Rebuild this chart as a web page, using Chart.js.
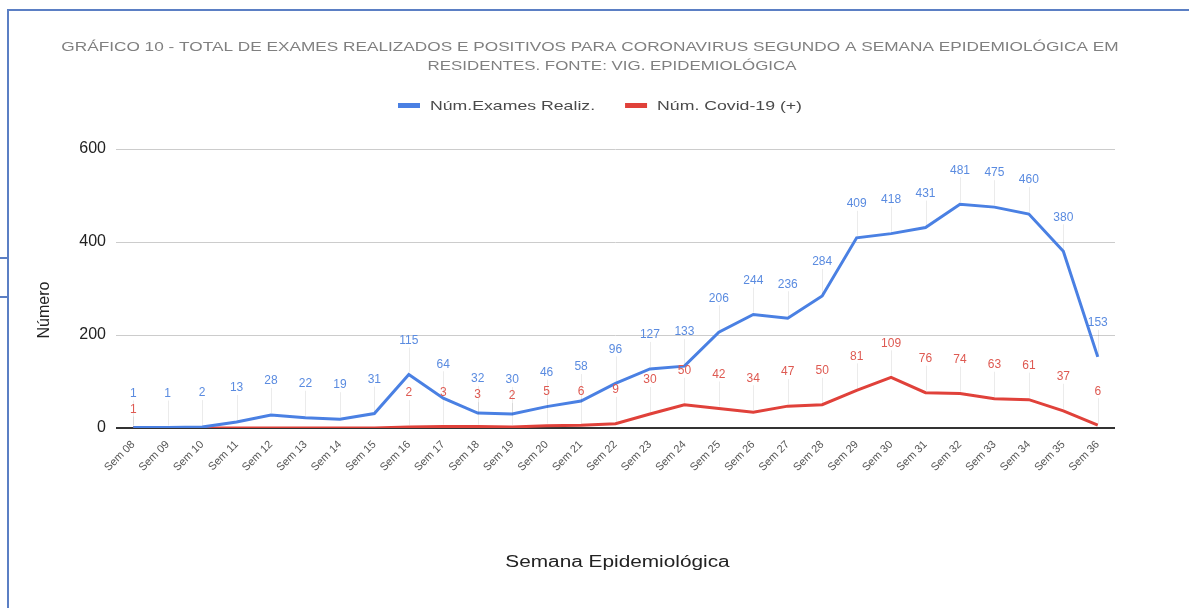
<!DOCTYPE html>
<html>
<head>
<meta charset="utf-8">
<script src="https://cdn.jsdelivr.net/npm/chart.js@4.4.1/dist/chart.umd.min.js"></script>
<style>
  html, body { margin: 0; padding: 0; background: #fff; }
  #wrap { position: relative; width: 1189px; height: 608px; overflow: hidden; }
  #moldura { position: absolute; left: 7px; top: 9px; right: -10px; bottom: -10px;
             border-left: 2px solid #5b7fc4; border-top: 2px solid #5b7fc4; }
  .traco { position: absolute; left: 0; width: 8px; height: 2px; background: #5b7fc4; }
  canvas { position: absolute; left: 0; top: 0; }
</style>
</head>
<body>
<div id="wrap">
  <div id="moldura"></div>
  <div class="traco" style="top:257px"></div>
  <div class="traco" style="top:296px"></div>
  <canvas id="grafico" width="1189" height="608"></canvas>
</div>
<script>
// semanas epidemiologicas
const semanas = ['Sem 08', 'Sem 09', 'Sem 10', 'Sem 11', 'Sem 12', 'Sem 13', 'Sem 14', 'Sem 15',
  'Sem 16', 'Sem 17', 'Sem 18', 'Sem 19', 'Sem 20', 'Sem 21', 'Sem 22', 'Sem 23', 'Sem 24',
  'Sem 25', 'Sem 26', 'Sem 27', 'Sem 28', 'Sem 29', 'Sem 30', 'Sem 31', 'Sem 32', 'Sem 33',
  'Sem 34', 'Sem 35', 'Sem 36'];

const examesRealizados = [1, 1, 2, 13, 28, 22, 19, 31, 115, 64, 32, 30, 46, 58, 96, 127, 133,
  206, 244, 236, 284, 409, 418, 431, 481, 475, 460, 380, 153];

const covidPositivos = [1, 0, 0, 0, 0, 0, 0, 0, 2, 3, 3, 2, 5, 6, 9, 30, 50,
  42, 34, 47, 50, 81, 109, 76, 74, 63, 61, 37, 6];

const ticksY = [0, 200, 400, 600];

const titulo = ['GRÁFICO 10 - TOTAL DE EXAMES REALIZADOS E POSITIVOS PARA CORONAVIRUS SEGUNDO A SEMANA EPIDEMIOLÓGICA EM',
  'RESIDENTES. FONTE: VIG. EPIDEMIOLÓGICA'];
const tituloX = 'Semana Epidemiológica';
const tituloY = 'Número';

const fonte = "'Liberation Sans', Arial, sans-serif";

// rotulos em cima dos pontos (estilo anotacao do google)
const rotulos = {
  id: 'rotulos',
  afterDatasetsDraw(chart) {
    const c = chart.ctx;
    const posBlue = [];
    c.save();
    c.font = '12px ' + fonte;
    c.textAlign = 'center';
    c.textBaseline = 'middle';
    chart.data.datasets.forEach((ds, i) => {
      const meta = chart.getDatasetMeta(i);
      meta.data.forEach((p, j) => {
        const v = ds.data[j];
        if (!v) return;
        let y = p.y - 34;
        if (i === 0) {
          posBlue[j] = y;
        } else if (posBlue[j] !== undefined && Math.abs(posBlue[j] - y) < 14) {
          y = posBlue[j] + 16;
        }
        c.strokeStyle = 'rgba(0,0,0,0.08)';
        c.lineWidth = 1;
        c.beginPath();
        c.moveTo(Math.round(p.x) + 0.5, y + 7);
        c.lineTo(Math.round(p.x) + 0.5, p.y - 2);
        c.stroke();
        c.fillStyle = ds.corRotulo;
        c.fillText(String(v), p.x, y);
      });
    });
    c.restore();
  }
};

// texto esticado na horizontal, como no original
function textoLargo(c, txt, x, y, sx, align) {
  c.save();
  c.translate(x, y);
  c.scale(sx, 1);
  c.textAlign = align;
  c.fillText(txt, 0, 0);
  const w = c.measureText(txt).width * sx;
  c.restore();
  return w;
}

// titulo, legenda e titulos dos eixos
const textos = {
  id: 'textos',
  afterDraw(chart) {
    const c = chart.ctx;
    const area = chart.chartArea;
    c.save();
    c.textBaseline = 'middle';

    // titulo
    c.fillStyle = '#808080';
    c.font = '13px ' + fonte;
    textoLargo(c, titulo[0], 590, 47, 1.325, 'center');
    textoLargo(c, titulo[1], 612, 66, 1.3, 'center');

    // legenda
    c.font = '13px ' + fonte;
    let x = 398;
    chart.data.datasets.forEach(ds => {
      c.fillStyle = ds.borderColor;
      c.fillRect(x, 103, 22, 5);
      c.fillStyle = '#4a4a4a';
      const w = textoLargo(c, ds.label, x + 32, 106, 1.36, 'left');
      x += 32 + w + 30;
    });

    // eixo x
    c.fillStyle = '#222';
    c.font = '16px ' + fonte;
    textoLargo(c, tituloX, (area.left + area.right) / 2 + 2, 563, 1.3, 'center');

    // eixo y
    c.font = '16px ' + fonte;
    c.translate(45, 310);
    c.rotate(-Math.PI / 2);
    c.textAlign = 'center';
    c.fillText(tituloY, 0, 0);
    c.restore();
  }
};

const ctx = document.getElementById('grafico').getContext('2d');

const grafico = new Chart(ctx, {
  type: 'line',
  data: {
    labels: semanas,
    datasets: [{
      label: 'Núm.Exames Realiz.',
      data: examesRealizados,
      borderColor: '#4a80e3',
      backgroundColor: '#4a80e3',
      corRotulo: '#5a8be0',
      borderWidth: 3,
      pointRadius: 0,
      tension: 0
    }, {
      label: 'Núm. Covid-19 (+)',
      data: covidPositivos,
      borderColor: '#e0413a',
      backgroundColor: '#e0413a',
      corRotulo: '#de5a52',
      borderWidth: 3,
      pointRadius: 0,
      tension: 0
    }]
  },
  plugins: [rotulos, textos],
  options: {
    responsive: false,
    animation: false,
    layout: { padding: { left: 32, right: 74, top: 149, bottom: 32 } },
    plugins: {
      title: { display: false },
      legend: { display: false },
      tooltip: { enabled: false }
    },
    scales: {
      x: {
        offset: true,
        grid: { display: false },
        border: { display: false },
        ticks: {
          color: '#555',
          font: { family: fonte, size: 11 },
          minRotation: 45,
          maxRotation: 45,
          autoSkip: false,
          padding: 2
        },
        afterFit: (scale) => { scale.height = 148; }
      },
      y: {
        min: 0,
        max: 600,
        afterBuildTicks: (scale) => { scale.ticks = ticksY.map(v => ({ value: v })); },
        grid: {
          color: (c) => c.tick && c.tick.value === 0 ? '#333' : '#ccc',
          lineWidth: (c) => c.tick && c.tick.value === 0 ? 2 : 1,
          drawTicks: false
        },
        border: { display: false },
        ticks: {
          color: '#222',
          font: { family: fonte, size: 16 },
          padding: 10
        },
        afterFit: (scale) => { scale.width = 84; }
      }
    }
  }
});
</script>
</body>
</html>
